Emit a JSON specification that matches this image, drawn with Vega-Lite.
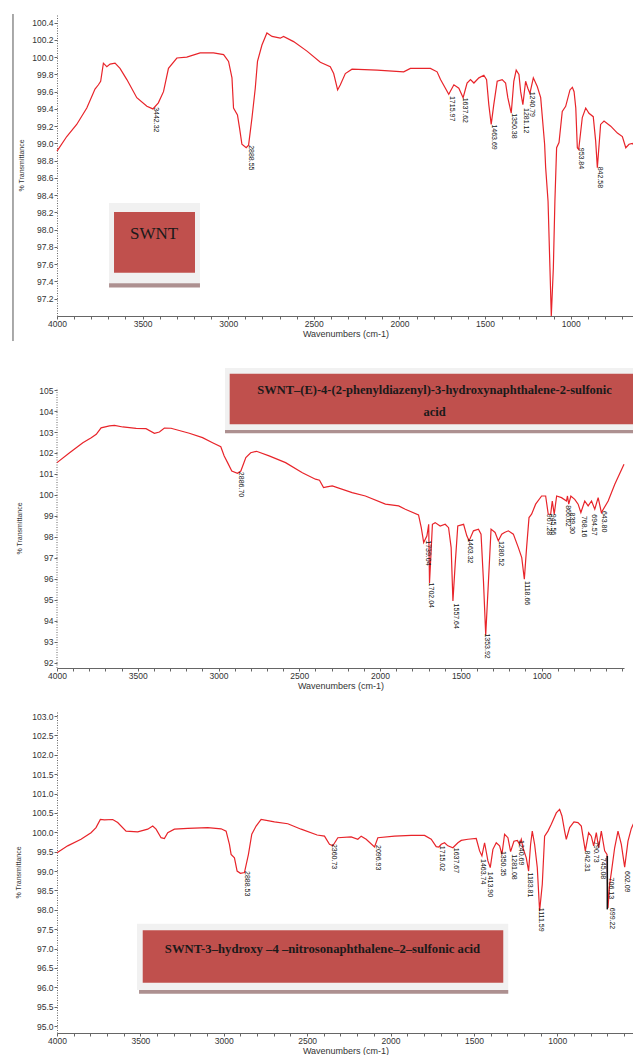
{
  "$schema": "https://vega.github.io/schema/vega-lite/v6.json",
  "background": "white",
  "padding": {"left": 12, "top": 13, "right": 0, "bottom": 0},
  "spacing": 43,
  "bounds": "flush",
  "config": {
    "view": {"stroke": null},
    "font": "Liberation Sans",
    "axis": {"labelFont": "Liberation Sans", "labelFontSize": 8.5, "labelColor": "#333", "titleFont": "Liberation Sans", "titleFontWeight": "normal", "titleColor": "#333", "domainColor": "#666", "tickColor": "#666", "tickSize": 3, "grid": false},
    "axisX": {"labelPadding": 0, "titlePadding": 2, "titleFontSize": 9, "labelFlush": false, "labelOverlap": false},
    "axisY": {"labelPadding": 1, "titleFontSize": 7, "domainDash": [1, 1.5], "labelOverlap": false}
  },
  "datasets": {
    "s1": [
      {"w":4000,"t":98.91},{"w":3943,"t":99.08},{"w":3885,"t":99.22},{"w":3826,"t":99.41},{"w":3778,"t":99.63},{"w":3758,"t":99.68},{"w":3745,"t":99.72},{"w":3729,"t":99.93},{"w":3709,"t":99.89},{"w":3690,"t":99.92},{"w":3661,"t":99.93},{"w":3632,"t":99.87},{"w":3592,"t":99.74},{"w":3534,"t":99.53},{"w":3475,"t":99.43},{"w":3440,"t":99.40},{"w":3408,"t":99.47},{"w":3378,"t":99.60},{"w":3349,"t":99.87},{"w":3300,"t":99.99},{"w":3242,"t":100.0},{"w":3164,"t":100.05},{"w":3086,"t":100.05},{"w":3027,"t":100.03},{"w":2998,"t":99.95},{"w":2978,"t":99.76},{"w":2969,"t":99.41},{"w":2946,"t":99.33},{"w":2934,"t":99.18},{"w":2920,"t":98.99},{"w":2895,"t":98.95},{"w":2881,"t":98.98},{"w":2861,"t":99.30},{"w":2842,"t":99.64},{"w":2829,"t":99.95},{"w":2803,"t":100.14},{"w":2774,"t":100.28},{"w":2744,"t":100.24},{"w":2696,"t":100.22},{"w":2677,"t":100.24},{"w":2618,"t":100.18},{"w":2540,"t":100.07},{"w":2462,"t":99.94},{"w":2404,"t":99.89},{"w":2384,"t":99.81},{"w":2361,"t":99.62},{"w":2345,"t":99.68},{"w":2316,"t":99.81},{"w":2277,"t":99.86},{"w":2130,"t":99.85},{"w":1975,"t":99.83},{"w":1936,"t":99.87},{"w":1819,"t":99.87},{"w":1780,"t":99.83},{"w":1760,"t":99.74},{"w":1712,"t":99.57},{"w":1682,"t":99.68},{"w":1653,"t":99.64},{"w":1628,"t":99.53},{"w":1605,"t":99.70},{"w":1585,"t":99.74},{"w":1565,"t":99.70},{"w":1536,"t":99.76},{"w":1507,"t":99.79},{"w":1491,"t":99.74},{"w":1478,"t":99.45},{"w":1464,"t":99.22},{"w":1449,"t":99.45},{"w":1429,"t":99.72},{"w":1400,"t":99.74},{"w":1380,"t":99.70},{"w":1367,"t":99.53},{"w":1347,"t":99.35},{"w":1332,"t":99.72},{"w":1318,"t":99.85},{"w":1302,"t":99.80},{"w":1292,"t":99.60},{"w":1279,"t":99.45},{"w":1263,"t":99.72},{"w":1250,"t":99.64},{"w":1238,"t":99.58},{"w":1218,"t":99.76},{"w":1195,"t":99.66},{"w":1175,"t":99.53},{"w":1152,"t":98.99},{"w":1146,"t":98.72},{"w":1132,"t":98.33},{"w":1121,"t":97.56},{"w":1113,"t":97.0},{"w":1101,"t":97.56},{"w":1092,"t":98.33},{"w":1082,"t":98.95},{"w":1068,"t":99.01},{"w":1049,"t":99.37},{"w":1029,"t":99.43},{"w":1004,"t":99.62},{"w":990,"t":99.65},{"w":980,"t":99.60},{"w":970,"t":99.41},{"w":961,"t":98.95},{"w":953,"t":98.93},{"w":932,"t":99.30},{"w":912,"t":99.41},{"w":893,"t":99.35},{"w":868,"t":99.31},{"w":854,"t":99.03},{"w":844,"t":98.72},{"w":825,"t":99.22},{"w":805,"t":99.26},{"w":766,"t":99.20},{"w":727,"t":99.12},{"w":698,"t":99.08},{"w":678,"t":98.95},{"w":659,"t":98.99},{"w":640,"t":99.0},{"w":630,"t":98.98}
    ],
    "p1": [
      {"w":3439,"t":99.42,"label":"3442.32"},{"w":2883,"t":98.98,"label":"2888.55"},{"w":1709,"t":99.55,"label":"1715.97"},{"w":1633,"t":99.53,"label":"1637.62"},{"w":1468,"t":99.22,"label":"1463.69"},{"w":1349,"t":99.35,"label":"1350.38"},{"w":1281,"t":99.41,"label":"1281.12"},{"w":1242,"t":99.60,"label":"1240.79"},{"w":955,"t":98.95,"label":"953.84"},{"w":844,"t":98.73,"label":"842.58"}
    ],
    "b1": [
      {"w":3696,"w2":3165,"t":98.31,"t2":97.38,"part":"outer"},
      {"w":3667,"w2":3194,"t":98.205,"t2":97.50,"part":"inner"},
      {"w":3696,"w2":3165,"t":97.38,"t2":97.33,"part":"shadow"}
    ],
    "title1": [{"w":3433,"t":97.95,"text":"SWNT"}],
    "f1": [{"w":4257,"t":100.5,"t2":96.71}],
    "s2": [
      {"w":4000,"t":101.54},{"w":3922,"t":102.01},{"w":3840,"t":102.49},{"w":3788,"t":102.73},{"w":3757,"t":102.89},{"w":3727,"t":103.20},{"w":3675,"t":103.29},{"w":3644,"t":103.32},{"w":3593,"t":103.24},{"w":3510,"t":103.17},{"w":3449,"t":103.16},{"w":3397,"t":102.94},{"w":3366,"t":103.0},{"w":3335,"t":103.19},{"w":3294,"t":103.18},{"w":3181,"t":102.94},{"w":3099,"t":102.73},{"w":3037,"t":102.49},{"w":2986,"t":102.30},{"w":2965,"t":101.86},{"w":2944,"t":101.54},{"w":2918,"t":101.14},{"w":2883,"t":101.03},{"w":2862,"t":101.14},{"w":2831,"t":101.78},{"w":2801,"t":102.01},{"w":2765,"t":102.08},{"w":2687,"t":101.86},{"w":2585,"t":101.54},{"w":2481,"t":101.06},{"w":2400,"t":100.75},{"w":2375,"t":100.70},{"w":2350,"t":100.35},{"w":2330,"t":100.38},{"w":2296,"t":100.43},{"w":2173,"t":100.11},{"w":2091,"t":99.95},{"w":1967,"t":99.56},{"w":1885,"t":99.48},{"w":1844,"t":99.32},{"w":1762,"t":99.05},{"w":1745,"t":98.44},{"w":1730,"t":97.73},{"w":1710,"t":98.05},{"w":1699,"t":98.60},{"w":1694,"t":95.80},{"w":1684,"t":97.33},{"w":1676,"t":98.60},{"w":1659,"t":98.68},{"w":1628,"t":98.52},{"w":1597,"t":98.60},{"w":1576,"t":98.44},{"w":1560,"t":97.49},{"w":1549,"t":94.95},{"w":1535,"t":96.70},{"w":1519,"t":98.52},{"w":1483,"t":98.60},{"w":1463,"t":98.05},{"w":1449,"t":97.81},{"w":1422,"t":98.29},{"w":1391,"t":98.37},{"w":1375,"t":98.13},{"w":1360,"t":95.90},{"w":1346,"t":93.33},{"w":1329,"t":95.90},{"w":1313,"t":98.37},{"w":1288,"t":98.21},{"w":1268,"t":97.81},{"w":1247,"t":98.13},{"w":1230,"t":98.21},{"w":1206,"t":98.29},{"w":1175,"t":98.13},{"w":1144,"t":97.49},{"w":1123,"t":97.01},{"w":1107,"t":95.98},{"w":1093,"t":97.49},{"w":1078,"t":98.92},{"w":1062,"t":99.08},{"w":1037,"t":99.56},{"w":1000,"t":99.95},{"w":975,"t":99.95},{"w":959,"t":99.08},{"w":944,"t":99.08},{"w":934,"t":99.71},{"w":922,"t":99.08},{"w":907,"t":99.95},{"w":877,"t":99.87},{"w":846,"t":99.71},{"w":840,"t":99.95},{"w":832,"t":99.56},{"w":819,"t":99.95},{"w":795,"t":99.79},{"w":774,"t":99.56},{"w":757,"t":99.16},{"w":733,"t":99.71},{"w":712,"t":99.48},{"w":691,"t":99.71},{"w":671,"t":99.32},{"w":650,"t":99.87},{"w":630,"t":99.16},{"w":588,"t":99.71},{"w":547,"t":100.51},{"w":490,"t":101.46}
    ],
    "p2": [
      {"w":2881,"t":101.10,"label":"2886.70"},{"w":1724,"t":97.84,"label":"1739.04"},{"w":1704,"t":95.82,"label":"1702.04"},{"w":1549,"t":94.82,"label":"1557.64"},{"w":1461,"t":97.94,"label":"1463.32"},{"w":1354,"t":93.40,"label":"1353.92"},{"w":1267,"t":97.81,"label":"1280.52"},{"w":1107,"t":95.90,"label":"1118.66"},{"w":975,"t":99.10,"label":"967.28"},{"w":946,"t":99.10,"label":"945.56"},{"w":854,"t":99.51,"label":"866.62"},{"w":829,"t":99.16,"label":"839.30"},{"w":757,"t":99.0,"label":"768.16"},{"w":696,"t":99.08,"label":"694.57"},{"w":634,"t":99.24,"label":"643.80"}
    ],
    "b2": [
      {"w":2960,"w2":428,"t":106.05,"t2":103.10,"part":"outer"},
      {"w":2931,"w2":428,"t":105.78,"t2":103.37,"part":"inner"},
      {"w":2960,"w2":428,"t":103.10,"t2":102.94,"part":"shadow"}
    ],
    "title2": [
      {"w":1663,"t":105.0,"text":"SWNT–(E)-4-(2-phenyldiazenyl)-3-hydroxynaphthalene-2-sulfonic"},
      {"w":1663,"t":103.96,"text":"acid"}
    ],
    "ax2": [{"w":4000,"t":91.75,"t2":105.1}],
    "s3": [
      {"w":4000,"t":99.47},{"w":3936,"t":99.65},{"w":3856,"t":99.82},{"w":3796,"t":99.99},{"w":3766,"t":100.12},{"w":3740,"t":100.33},{"w":3716,"t":100.32},{"w":3666,"t":100.33},{"w":3636,"t":100.25},{"w":3586,"t":100.03},{"w":3516,"t":100.01},{"w":3456,"t":100.08},{"w":3426,"t":100.16},{"w":3406,"t":100.08},{"w":3376,"t":99.86},{"w":3356,"t":99.84},{"w":3336,"t":99.99},{"w":3296,"t":100.08},{"w":3216,"t":100.10},{"w":3096,"t":100.12},{"w":3016,"t":100.09},{"w":2986,"t":100.03},{"w":2966,"t":99.69},{"w":2956,"t":99.43},{"w":2936,"t":99.34},{"w":2920,"t":99.0},{"w":2900,"t":98.94},{"w":2876,"t":98.96},{"w":2852,"t":99.43},{"w":2832,"t":99.95},{"w":2806,"t":100.16},{"w":2776,"t":100.33},{"w":2696,"t":100.27},{"w":2616,"t":100.22},{"w":2536,"t":100.08},{"w":2440,"t":99.93},{"w":2396,"t":99.90},{"w":2366,"t":99.69},{"w":2346,"t":99.65},{"w":2316,"t":99.86},{"w":2236,"t":99.88},{"w":2196,"t":99.82},{"w":2176,"t":99.90},{"w":2146,"t":99.82},{"w":2096,"t":99.62},{"w":2076,"t":99.86},{"w":1976,"t":99.90},{"w":1876,"t":99.92},{"w":1796,"t":99.92},{"w":1756,"t":99.82},{"w":1726,"t":99.63},{"w":1710,"t":99.62},{"w":1696,"t":99.69},{"w":1676,"t":99.73},{"w":1656,"t":99.65},{"w":1626,"t":99.60},{"w":1596,"t":99.73},{"w":1576,"t":99.79},{"w":1536,"t":99.82},{"w":1486,"t":99.84},{"w":1466,"t":99.52},{"w":1452,"t":99.39},{"w":1436,"t":99.73},{"w":1416,"t":99.26},{"w":1402,"t":99.09},{"w":1386,"t":99.56},{"w":1366,"t":99.73},{"w":1346,"t":99.65},{"w":1332,"t":99.43},{"w":1316,"t":99.95},{"w":1296,"t":99.86},{"w":1280,"t":99.50},{"w":1260,"t":99.77},{"w":1240,"t":99.79},{"w":1226,"t":99.69},{"w":1216,"t":99.82},{"w":1206,"t":99.60},{"w":1186,"t":99.34},{"w":1172,"t":99.0},{"w":1160,"t":99.69},{"w":1150,"t":100.03},{"w":1136,"t":99.69},{"w":1120,"t":99.09},{"w":1106,"t":97.97},{"w":1090,"t":98.66},{"w":1076,"t":99.90},{"w":1056,"t":100.03},{"w":1036,"t":100.21},{"w":1006,"t":100.50},{"w":986,"t":100.59},{"w":972,"t":100.42},{"w":956,"t":100.03},{"w":946,"t":99.82},{"w":926,"t":100.12},{"w":900,"t":100.27},{"w":876,"t":100.25},{"w":856,"t":100.16},{"w":832,"t":99.52},{"w":812,"t":99.99},{"w":796,"t":99.90},{"w":782,"t":99.65},{"w":766,"t":99.99},{"w":752,"t":99.60},{"w":736,"t":100.03},{"w":716,"t":99.52},{"w":702,"t":99.43},{"w":696,"t":98.05},{"w":686,"t":98.66},{"w":676,"t":98.96},{"w":656,"t":99.60},{"w":636,"t":100.03},{"w":616,"t":99.69},{"w":596,"t":99.10},{"w":576,"t":99.77},{"w":556,"t":100.10},{"w":540,"t":100.25}
    ],
    "p3": [
      {"w":2880,"t":99.0,"label":"2888.53"},{"w":2356,"t":99.70,"label":"2360.73"},{"w":2094,"t":99.67,"label":"2096.93"},{"w":1710,"t":99.65,"label":"1715.02"},{"w":1626,"t":99.60,"label":"1637.67"},{"w":1466,"t":99.31,"label":"1463.74"},{"w":1420,"t":98.98,"label":"1413.90"},{"w":1346,"t":99.52,"label":"1350.35"},{"w":1276,"t":99.43,"label":"1281.08"},{"w":1234,"t":99.80,"label":"1240.69"},{"w":1184,"t":98.96,"label":"1183.81"},{"w":1114,"t":98.05,"label":"1111.59"},{"w":840,"t":99.53,"label":"842.31"},{"w":784,"t":99.77,"label":"790.73"},{"w":744,"t":99.34,"label":"745.08"},{"w":696,"t":98.83,"label":"706.13"},{"w":690,"t":98.05,"label":"699.22"},{"w":600,"t":99.0,"label":"602.09"}
    ],
    "b3": [
      {"w":3520,"w2":1294,"t":97.64,"t2":95.93,"part":"outer"},
      {"w":3486,"w2":1324,"t":97.47,"t2":96.12,"part":"inner"},
      {"w":3508,"w2":1294,"t":95.93,"t2":95.83,"part":"shadow"}
    ],
    "title3": [{"w":2408,"t":96.99,"text":"SWNT-3–hydroxy –4 –nitrosonaphthalene–2–sulfonic acid"}],
    "m3": [{"w":700,"t":99.39,"t2":98.01}]
  },
  "vconcat": [
    {
      "width": 577,
      "height": 302,
      "encoding": {
        "x": {"field": "w", "type": "quantitative", "scale": {"domain": [630, 4000], "reverse": true, "nice": false, "zero": false},
          "axis": {"title": "Wavenumbers (cm-1)", "values": [4000,3900,3800,3700,3600,3500,3400,3300,3200,3100,3000,2900,2800,2700,2600,2500,2400,2300,2200,2100,2000,1900,1800,1700,1600,1500,1400,1300,1200,1100,1000,900,800,700], "labelExpr": "datum.value % 500 === 0 ? format(datum.value, 'd') : ''"}},
        "y": {"field": "t", "type": "quantitative", "scale": {"domain": [97.0, 100.5], "nice": false, "zero": false},
          "axis": {"title": "% Transmittance", "values": [97.2,97.4,97.6,97.8,98.0,98.2,98.4,98.6,98.8,99.0,99.2,99.4,99.6,99.8,100.0,100.2,100.4], "format": ".1f", "titlePadding": 7}}
      },
      "layer": [
        {"data": {"name": "f1"}, "mark": {"type": "rule", "clip": false, "color": "#555", "strokeWidth": 1}, "encoding": {"y2": {"field": "t2"}}},
        {"data": {"name": "s1"}, "mark": {"type": "line", "color": "#e8242a", "strokeWidth": 1.2}, "encoding": {}},
        {"data": {"name": "b1"}, "mark": {"type": "rect", "clip": false}, "encoding": {"x2": {"field": "w2"}, "y2": {"field": "t2"}, "color": {"field": "part", "type": "nominal", "scale": {"domain": ["outer", "inner", "shadow"], "range": ["#f1f1f1", "#c0504d", "#ad9090"]}, "legend": null}}},
        {"data": {"name": "title1"}, "mark": {"type": "text", "font": "Liberation Serif", "fontSize": 17, "color": "#1a1a1a", "baseline": "middle"}, "encoding": {"text": {"field": "text"}}},
        {"data": {"name": "p1"}, "mark": {"type": "text", "angle": 90, "align": "left", "baseline": "bottom", "font": "Liberation Sans", "fontSize": 7, "color": "#111"}, "encoding": {"text": {"field": "label"}}}
      ]
    },
    {
      "width": 567,
      "height": 309,
      "encoding": {
        "x": {"field": "w", "type": "quantitative", "scale": {"domain": [490, 4000], "reverse": true, "nice": false, "zero": false},
          "axis": {"title": "Wavenumbers (cm-1)", "values": [4000,3900,3800,3700,3600,3500,3400,3300,3200,3100,3000,2900,2800,2700,2600,2500,2400,2300,2200,2100,2000,1900,1800,1700,1600,1500,1400,1300,1200,1100,1000,900,800,700,600,500], "labelExpr": "datum.value % 500 === 0 && datum.value >= 1000 ? format(datum.value, 'd') : ''"}},
        "y": {"field": "t", "type": "quantitative", "scale": {"domain": [91.75, 106.48], "nice": false, "zero": false},
          "axis": {"title": "% Transmittance", "values": [92,93,94,95,96,97,98,99,100,101,102,103,104,105], "format": "d", "domain": false, "titlePadding": 16, "titleY": 169}}
      },
      "layer": [
        {"data": {"name": "ax2"}, "mark": {"type": "rule", "clip": false, "color": "#666", "strokeWidth": 1, "strokeDash": [1, 1.5]}, "encoding": {"y2": {"field": "t2"}}},
        {"data": {"name": "s2"}, "mark": {"type": "line", "color": "#e8242a", "strokeWidth": 1.2}, "encoding": {}},
        {"data": {"name": "b2"}, "mark": {"type": "rect", "clip": false}, "encoding": {"x2": {"field": "w2"}, "y2": {"field": "t2"}, "color": {"field": "part", "type": "nominal", "scale": {"domain": ["outer", "inner", "shadow"], "range": ["#f1f1f1", "#c0504d", "#ad9090"]}, "legend": null}}},
        {"data": {"name": "title2"}, "mark": {"type": "text", "font": "Liberation Serif", "fontSize": 12.5, "fontWeight": "bold", "color": "#1a1a1a", "baseline": "middle"}, "encoding": {"text": {"field": "text"}}},
        {"data": {"name": "p2"}, "mark": {"type": "text", "angle": 90, "align": "left", "baseline": "bottom", "font": "Liberation Sans", "fontSize": 7, "color": "#111"}, "encoding": {"text": {"field": "label"}}}
      ]
    },
    {
      "width": 577,
      "height": 322,
      "encoding": {
        "x": {"field": "w", "type": "quantitative", "scale": {"domain": [540, 4000], "reverse": true, "nice": false, "zero": false},
          "axis": {"title": "Wavenumbers (cm-1)", "values": [4000,3900,3800,3700,3600,3500,3400,3300,3200,3100,3000,2900,2800,2700,2600,2500,2400,2300,2200,2100,2000,1900,1800,1700,1600,1500,1400,1300,1200,1100,1000,900,800,700,600], "labelExpr": "datum.value % 500 === 0 ? format(datum.value, 'd') : ''"}},
        "y": {"field": "t", "type": "quantitative", "scale": {"domain": [94.82, 103.13], "nice": false, "zero": false},
          "axis": {"title": "% Transmittance", "values": [95.0,95.5,96.0,96.5,97.0,97.5,98.0,98.5,99.0,99.5,100.0,100.5,101.0,101.5,102.0,102.5,103.0], "format": ".1f", "titlePadding": 10}}
      },
      "layer": [
        {"data": {"name": "s3"}, "mark": {"type": "line", "color": "#e8242a", "strokeWidth": 1.2}, "encoding": {}},
        {"data": {"name": "m3"}, "mark": {"type": "rule", "color": "#111", "strokeWidth": 1.5}, "encoding": {"y2": {"field": "t2"}}},
        {"data": {"name": "b3"}, "mark": {"type": "rect", "clip": false}, "encoding": {"x2": {"field": "w2"}, "y2": {"field": "t2"}, "color": {"field": "part", "type": "nominal", "scale": {"domain": ["outer", "inner", "shadow"], "range": ["#f1f1f1", "#c0504d", "#ad9090"]}, "legend": null}}},
        {"data": {"name": "title3"}, "mark": {"type": "text", "font": "Liberation Serif", "fontSize": 12.7, "fontWeight": "bold", "color": "#1a1a1a", "baseline": "middle"}, "encoding": {"text": {"field": "text"}}},
        {"data": {"name": "p3"}, "mark": {"type": "text", "angle": 90, "align": "left", "baseline": "bottom", "font": "Liberation Sans", "fontSize": 7, "color": "#111"}, "encoding": {"text": {"field": "label"}}}
      ]
    }
  ]
}
